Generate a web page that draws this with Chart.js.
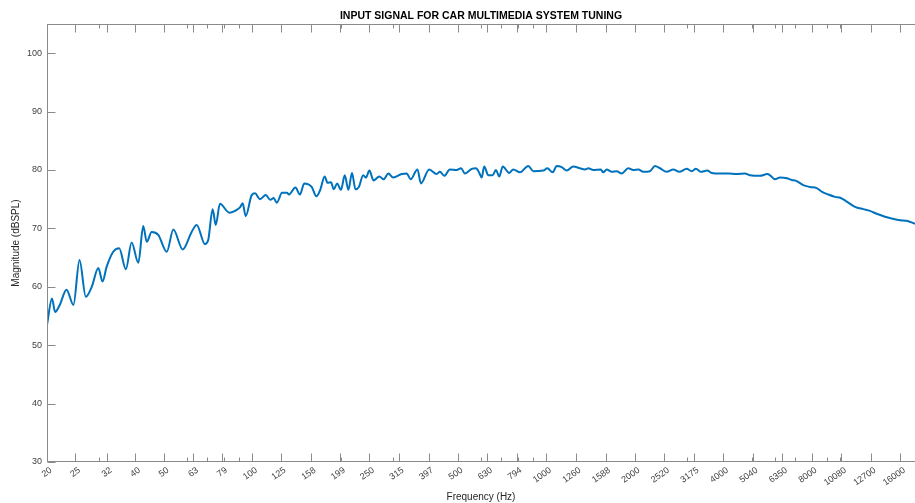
<!DOCTYPE html>
<html>
<head>
<meta charset="utf-8">
<style>
  html, body { margin: 0; padding: 0; background: #ffffff; }
  #wrap { width: 915px; height: 503px; position: relative; }
</style>
<script src="https://cdn.jsdelivr.net/npm/chart.js@4/dist/chart.umd.min.js"></script>
</head>
<body>
<div id="wrap"><canvas id="chart"></canvas></div>
<script>
const freqHz = [
  20, 20.8, 21.3, 22.1, 23.3, 24.6, 25.8, 27.1, 28.4, 29.9,
  30.9, 31.9, 33.6, 35.2, 37.1, 38.8, 40.9, 42.5, 43.7, 45.4,
  47.8, 51.1, 53.8, 57.9, 62.1, 64.6, 68.9, 70.7, 73.2, 75.0,
  77.5, 83.4, 87.2, 90.7, 92.6, 94.8, 99.4, 102, 106, 111,
  115, 118, 121, 126, 131, 133, 140, 145, 150, 159,
  165, 170, 176, 180, 185, 189, 194, 200, 206, 212,
  218, 224, 230, 238, 243, 250, 258, 270, 279, 290,
  301, 322, 335, 345, 364, 374, 399, 423, 434, 449,
  469, 495, 512, 528, 557, 576, 591, 602, 614, 634,
  656, 673, 691, 710, 747, 771, 813, 867, 902, 975,
  1007, 1050, 1083, 1127, 1172, 1234, 1300, 1352, 1388, 1443,
  1529, 1560, 1603, 1667, 1733, 1802, 1898, 1974, 2053, 2135,
  2250, 2340, 2433, 2564, 2700, 2830, 2999, 3119, 3225, 3346,
  3524, 3648, 3892, 4154, 4436, 4734, 4923, 5324, 5638, 5790,
  5988, 6228, 6563, 6825, 7098, 7474, 7877, 8301, 8633, 9091,
  9581, 10018, 10500, 11206, 11958, 12602, 13282, 14174, 14940, 15944,
  16802, 17930
];

const levelDb = [
  53.5, 58.0, 55.7, 56.9, 59.5, 56.9, 64.6, 58.3, 60.0, 63.2,
  60.9, 63.4, 66.0, 66.6, 63.0, 67.6, 64.1, 70.4, 67.7, 69.4,
  68.9, 66.0, 69.8, 66.4, 69.4, 70.6, 67.3, 68.0, 73.3, 70.6,
  74.2, 72.7, 73.0, 73.6, 74.3, 72.1, 75.7, 76.0, 75.0, 75.7,
  74.9, 75.2, 74.4, 76.1, 76.1, 75.8, 77.0, 75.8, 77.7, 77.1,
  75.5, 76.6, 78.9, 77.8, 77.9, 76.7, 77.7, 76.6, 79.1, 76.6,
  79.5, 76.7, 77.1, 79.1, 78.7, 79.9, 78.2, 78.9, 78.4, 79.4,
  78.7, 79.3, 79.4, 78.4, 80.1, 77.7, 80.1, 79.3, 79.7, 79.0,
  80.1, 80.0, 80.3, 79.4, 80.2, 80.3, 79.5, 78.7, 80.6, 79.1,
  79.1, 80.0, 78.9, 80.6, 79.5, 80.1, 79.6, 80.7, 79.8, 79.9,
  80.3, 79.6, 80.7, 80.5, 79.9, 80.6, 80.3, 80.1, 80.3, 80.0,
  80.1, 79.6, 80.1, 79.7, 79.8, 79.4, 80.3, 80.0, 80.1, 79.7,
  79.8, 80.7, 80.3, 79.7, 80.1, 79.7, 80.2, 79.8, 80.2, 79.7,
  79.9, 79.5, 79.4, 79.4, 79.3, 79.4, 79.1, 79.0, 79.3, 79.0,
  78.4, 78.7, 78.6, 78.3, 78.1, 77.4, 77.1, 76.9, 76.3, 75.8,
  75.4, 75.2, 74.6, 73.7, 73.3, 73.0, 72.5, 72.0, 71.7, 71.4,
  71.3, 70.8
];

// third-octave labels as printed on the axis
const xTickValues = [
  20, 25, 32, 40, 50, 63, 79, 100, 125, 158, 199, 250, 315, 397, 500,
  630, 794, 1000, 1260, 1588, 2000, 2520, 3175, 4000, 5040, 6350, 8000,
  10080, 12700, 16000
];
const xMinorTicks = [
  20, 30, 40, 50, 60, 70, 80, 90, 100, 200, 300, 400, 500, 600, 700, 800, 900,
  1000, 2000, 3000, 4000, 5000, 6000, 7000, 8000, 9000, 10000
];
const yTickValues = [30, 40, 50, 60, 70, 80, 90, 100];

const X_MIN = 20;
const X_MAX = 17930;
const Y_MIN = 30;
const Y_MAX = 105;

const axisColor = '#8a8a8a';
const labelColor = '#404040';
const fontFamily = '"Liberation Sans", Arial, Helvetica, sans-serif';

// MATLAB style box: axis lines with inward ticks
const inwardTicks = {
  id: 'inwardTicks',
  afterDatasetsDraw(chart) {
    const { ctx, chartArea: area, scales } = chart;
    const x = scales.x;
    const y = scales.y;
    const major = 8;
    const minor = 4;
    ctx.save();
    ctx.strokeStyle = axisColor;
    ctx.lineWidth = 1;
    ctx.beginPath();
    const left = Math.round(area.left) + 0.5;
    const top = Math.round(area.top) + 0.5;
    const bottom = Math.round(area.bottom) - 0.5;
    ctx.moveTo(area.right, top);
    ctx.lineTo(left, top);
    ctx.lineTo(left, bottom);
    ctx.lineTo(area.right, bottom);

    xTickValues.forEach((v) => {
      const px = Math.round(x.getPixelForValue(v)) + 0.5;
      ctx.moveTo(px, bottom);
      ctx.lineTo(px, bottom - major);
      ctx.moveTo(px, top);
      ctx.lineTo(px, top + major);
    });
    xMinorTicks.forEach((v) => {
      const px = Math.round(x.getPixelForValue(v)) + 0.5;
      ctx.moveTo(px, bottom);
      ctx.lineTo(px, bottom - minor);
      ctx.moveTo(px, top);
      ctx.lineTo(px, top + minor);
    });
    yTickValues.forEach((v) => {
      const py = Math.round(y.getPixelForValue(v)) + 0.5;
      ctx.moveTo(left, py);
      ctx.lineTo(left + major, py);
    });
    ctx.stroke();
    ctx.restore();
  }
};

const points = freqHz.map((f, i) => ({ x: f, y: levelDb[i] }));

new Chart(document.getElementById('chart'), {
  type: 'line',
  data: {
    datasets: [{
      label: 'Input signal',
      data: points,
      borderColor: '#0072BD',
      borderWidth: 2,
      pointRadius: 0,
      cubicInterpolationMode: 'monotone',
      fill: false
    }]
  },
  options: {
    responsive: true,
    maintainAspectRatio: false,
    animation: false,
    layout: { padding: 0 },
    plugins: {
      legend: { display: false },
      tooltip: { enabled: false }
    },
    scales: {
      x: {
        type: 'logarithmic',
        position: 'bottom',
        min: X_MIN,
        max: X_MAX,
        afterBuildTicks: (scale) => {
          scale.ticks = xTickValues.map((v) => ({ value: v }));
        },
        afterFit: (scale) => {
          scale.height = 41;
          scale.paddingLeft = 0;
          scale.paddingRight = 0;
        },
        ticks: {
          autoSkip: false,
          minRotation: 35,
          maxRotation: 35,
          padding: 3,
          labelOffset: 4,
          color: labelColor,
          font: { family: fontFamily, size: 9 },
          callback: (value) => String(value)
        },
        grid: { display: false, drawTicks: false },
        border: { display: false },
        title: {
          display: true,
          text: 'Frequency (Hz)',
          color: '#262626',
          font: { family: fontFamily, size: 10 },
          padding: { top: 0, bottom: 0 }
        }
      },
      xTop: {
        type: 'logarithmic',
        position: 'top',
        min: X_MIN,
        max: X_MAX,
        afterFit: (scale) => {
          scale.height = 24;
          scale.paddingLeft = 0;
          scale.paddingRight = 0;
        },
        ticks: { display: false },
        grid: { display: false, drawTicks: false },
        border: { display: false },
        title: {
          display: true,
          text: 'INPUT SIGNAL FOR CAR MULTIMEDIA SYSTEM TUNING',
          color: '#000000',
          font: { family: fontFamily, size: 10.5, weight: 'bold' },
          padding: { top: 10, bottom: 0 }
        }
      },
      y: {
        type: 'linear',
        min: Y_MIN,
        max: Y_MAX,
        afterBuildTicks: (scale) => {
          scale.ticks = yTickValues.map((v) => ({ value: v }));
        },
        afterFit: (scale) => {
          scale.width = 47;
        },
        ticks: {
          padding: 5,
          color: labelColor,
          font: { family: fontFamily, size: 9 }
        },
        grid: { display: false, drawTicks: false },
        border: { display: false },
        title: {
          display: true,
          text: 'Magnitude (dBSPL)',
          color: '#262626',
          font: { family: fontFamily, size: 10 },
          padding: { top: 10, bottom: 0 }
        }
      }
    }
  },
  plugins: [inwardTicks]
});
</script>
</body>
</html>
